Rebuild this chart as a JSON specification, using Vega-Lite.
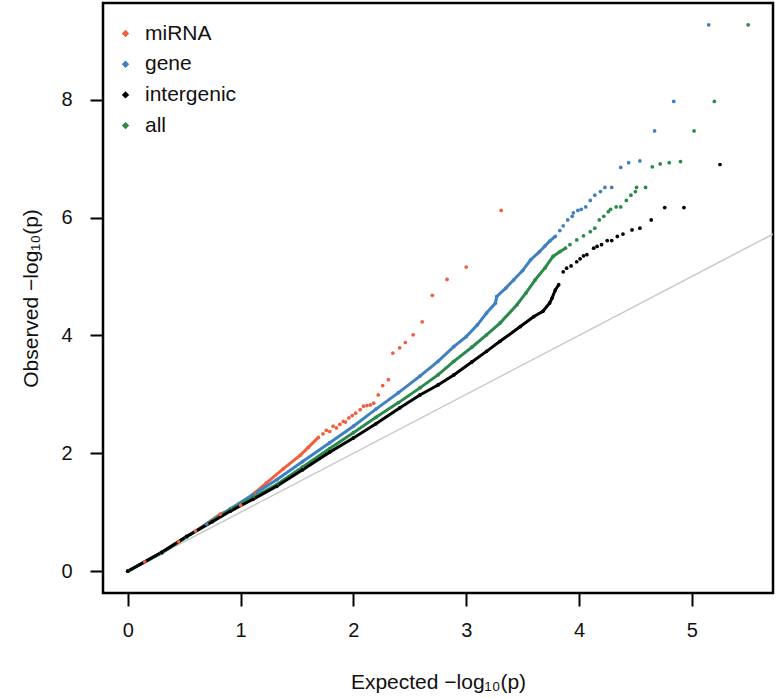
{
  "$schema": "https://vega.github.io/schema/vega-lite/v6.json",
  "width": 670,
  "height": 590,
  "autosize": {"type": "none"},
  "padding": {"left": 103, "top": 3, "right": 4, "bottom": 105},
  "background": "white",
  "config": {
    "font": "Liberation Sans",
    "view": {"stroke": "black", "strokeWidth": 2.5},
    "axis": {
      "grid": false,
      "domain": false,
      "tickColor": "black",
      "tickWidth": 2,
      "tickSize": 13,
      "labelFontSize": 20,
      "labelColor": "#111",
      "labelFont": "Liberation Sans",
      "titleFontSize": 21,
      "titleFontWeight": "normal",
      "titleColor": "#111",
      "titleFont": "Liberation Sans"
    },
    "legend": {
      "labelFontSize": 21,
      "labelFont": "Liberation Sans",
      "labelColor": "#111"
    }
  },
  "datasets": {
    "diag": [{"x": 0, "y": 0}, {"x": 5.72, "y": 5.72}],
    "pts": [
      {"g": "miRNA", "x": 0, "y": 0},
      {"g": "miRNA", "x": 0.15, "y": 0.16},
      {"g": "miRNA", "x": 0.3, "y": 0.32},
      {"g": "miRNA", "x": 0.45, "y": 0.5},
      {"g": "miRNA", "x": 0.6, "y": 0.68},
      {"g": "miRNA", "x": 0.82, "y": 0.97},
      {"g": "miRNA", "x": 1.0, "y": 1.12},
      {"g": "miRNA", "x": 1.12, "y": 1.32},
      {"g": "miRNA", "x": 1.23, "y": 1.5},
      {"g": "miRNA", "x": 1.38, "y": 1.74},
      {"g": "miRNA", "x": 1.53, "y": 1.97},
      {"g": "miRNA", "x": 1.6, "y": 2.1},
      {"g": "miRNA", "x": 1.69, "y": 2.27},
      {"g": "miRNA", "x": 1.73, "y": 2.33},
      {"g": "miRNA", "x": 1.76, "y": 2.39},
      {"g": "miRNA", "x": 1.79, "y": 2.37},
      {"g": "miRNA", "x": 1.82, "y": 2.46},
      {"g": "miRNA", "x": 1.85, "y": 2.43},
      {"g": "miRNA", "x": 1.88, "y": 2.49},
      {"g": "miRNA", "x": 1.91, "y": 2.54},
      {"g": "miRNA", "x": 1.93, "y": 2.53},
      {"g": "miRNA", "x": 1.96, "y": 2.6},
      {"g": "miRNA", "x": 1.99, "y": 2.64},
      {"g": "miRNA", "x": 2.02, "y": 2.68},
      {"g": "miRNA", "x": 2.06, "y": 2.74},
      {"g": "miRNA", "x": 2.09, "y": 2.8},
      {"g": "miRNA", "x": 2.12, "y": 2.81},
      {"g": "miRNA", "x": 2.15, "y": 2.82},
      {"g": "miRNA", "x": 2.18, "y": 2.85},
      {"g": "miRNA", "x": 2.22, "y": 2.99},
      {"g": "miRNA", "x": 2.26, "y": 3.15},
      {"g": "miRNA", "x": 2.31, "y": 3.25},
      {"g": "miRNA", "x": 2.35, "y": 3.7},
      {"g": "miRNA", "x": 2.41, "y": 3.79},
      {"g": "miRNA", "x": 2.46, "y": 3.88},
      {"g": "miRNA", "x": 2.53, "y": 4.01},
      {"g": "miRNA", "x": 2.61, "y": 4.23},
      {"g": "miRNA", "x": 2.7, "y": 4.68},
      {"g": "miRNA", "x": 2.83, "y": 4.95},
      {"g": "miRNA", "x": 3.0, "y": 5.16},
      {"g": "miRNA", "x": 3.31, "y": 6.12},
      {"g": "gene", "x": 0, "y": 0},
      {"g": "gene", "x": 0.3, "y": 0.31},
      {"g": "gene", "x": 0.52, "y": 0.58},
      {"g": "gene", "x": 0.7, "y": 0.8},
      {"g": "gene", "x": 0.91, "y": 1.06},
      {"g": "gene", "x": 1.11, "y": 1.3},
      {"g": "gene", "x": 1.32, "y": 1.55},
      {"g": "gene", "x": 1.55, "y": 1.86},
      {"g": "gene", "x": 1.79, "y": 2.18},
      {"g": "gene", "x": 2.0, "y": 2.46},
      {"g": "gene", "x": 2.2, "y": 2.75},
      {"g": "gene", "x": 2.4, "y": 3.03},
      {"g": "gene", "x": 2.59, "y": 3.31},
      {"g": "gene", "x": 2.75, "y": 3.56},
      {"g": "gene", "x": 2.89, "y": 3.81},
      {"g": "gene", "x": 3.0, "y": 3.98},
      {"g": "gene", "x": 3.1, "y": 4.18},
      {"g": "gene", "x": 3.18, "y": 4.38},
      {"g": "gene", "x": 3.26, "y": 4.55},
      {"g": "gene", "x": 3.27, "y": 4.66},
      {"g": "gene", "x": 3.35, "y": 4.8},
      {"g": "gene", "x": 3.42, "y": 4.94},
      {"g": "gene", "x": 3.5, "y": 5.1},
      {"g": "gene", "x": 3.57, "y": 5.28},
      {"g": "gene", "x": 3.65, "y": 5.42},
      {"g": "gene", "x": 3.7, "y": 5.52},
      {"g": "gene", "x": 3.74, "y": 5.6},
      {"g": "gene", "x": 3.79, "y": 5.68},
      {"g": "gene", "x": 3.83, "y": 5.78},
      {"g": "gene", "x": 3.86, "y": 5.86},
      {"g": "gene", "x": 3.9, "y": 5.96},
      {"g": "gene", "x": 3.94, "y": 6.02},
      {"g": "gene", "x": 3.95, "y": 6.08},
      {"g": "gene", "x": 3.99, "y": 6.12},
      {"g": "gene", "x": 4.02, "y": 6.14},
      {"g": "gene", "x": 4.06, "y": 6.18},
      {"g": "gene", "x": 4.1, "y": 6.29},
      {"g": "gene", "x": 4.14, "y": 6.38},
      {"g": "gene", "x": 4.19, "y": 6.44},
      {"g": "gene", "x": 4.23, "y": 6.51},
      {"g": "gene", "x": 4.29, "y": 6.51},
      {"g": "gene", "x": 4.37, "y": 6.85},
      {"g": "gene", "x": 4.44, "y": 6.93},
      {"g": "gene", "x": 4.54, "y": 6.96},
      {"g": "gene", "x": 4.67, "y": 7.47},
      {"g": "gene", "x": 4.84, "y": 7.97},
      {"g": "gene", "x": 5.15, "y": 9.27},
      {"g": "all", "x": 0, "y": 0},
      {"g": "all", "x": 0.3, "y": 0.31},
      {"g": "all", "x": 0.52, "y": 0.58},
      {"g": "all", "x": 0.91, "y": 1.04},
      {"g": "all", "x": 1.11, "y": 1.25},
      {"g": "all", "x": 1.32, "y": 1.47},
      {"g": "all", "x": 1.55, "y": 1.77},
      {"g": "all", "x": 1.79, "y": 2.08},
      {"g": "all", "x": 2.0, "y": 2.35},
      {"g": "all", "x": 2.2, "y": 2.61},
      {"g": "all", "x": 2.4, "y": 2.86},
      {"g": "all", "x": 2.59, "y": 3.11},
      {"g": "all", "x": 2.75, "y": 3.33},
      {"g": "all", "x": 2.89, "y": 3.56},
      {"g": "all", "x": 3.05, "y": 3.8},
      {"g": "all", "x": 3.18, "y": 4.01},
      {"g": "all", "x": 3.3, "y": 4.21},
      {"g": "all", "x": 3.45, "y": 4.52},
      {"g": "all", "x": 3.53, "y": 4.72},
      {"g": "all", "x": 3.61, "y": 4.94},
      {"g": "all", "x": 3.7, "y": 5.15},
      {"g": "all", "x": 3.77, "y": 5.34},
      {"g": "all", "x": 3.83, "y": 5.42},
      {"g": "all", "x": 3.88, "y": 5.48},
      {"g": "all", "x": 3.92, "y": 5.54},
      {"g": "all", "x": 3.98, "y": 5.62},
      {"g": "all", "x": 4.04, "y": 5.69},
      {"g": "all", "x": 4.1, "y": 5.76},
      {"g": "all", "x": 4.14, "y": 5.82},
      {"g": "all", "x": 4.18, "y": 5.96},
      {"g": "all", "x": 4.22, "y": 6.02},
      {"g": "all", "x": 4.26, "y": 6.1},
      {"g": "all", "x": 4.28, "y": 6.14},
      {"g": "all", "x": 4.33, "y": 6.18},
      {"g": "all", "x": 4.37, "y": 6.18},
      {"g": "all", "x": 4.42, "y": 6.29},
      {"g": "all", "x": 4.46, "y": 6.38},
      {"g": "all", "x": 4.5, "y": 6.44},
      {"g": "all", "x": 4.51, "y": 6.51},
      {"g": "all", "x": 4.59, "y": 6.51},
      {"g": "all", "x": 4.65, "y": 6.86},
      {"g": "all", "x": 4.72, "y": 6.91},
      {"g": "all", "x": 4.8, "y": 6.93},
      {"g": "all", "x": 4.9, "y": 6.95},
      {"g": "all", "x": 5.02, "y": 7.47},
      {"g": "all", "x": 5.2, "y": 7.97},
      {"g": "all", "x": 5.5, "y": 9.27},
      {"g": "intergenic", "x": 0, "y": 0},
      {"g": "intergenic", "x": 0.3, "y": 0.32},
      {"g": "intergenic", "x": 0.52, "y": 0.59},
      {"g": "intergenic", "x": 0.75, "y": 0.84},
      {"g": "intergenic", "x": 0.91, "y": 1.02},
      {"g": "intergenic", "x": 1.11, "y": 1.22},
      {"g": "intergenic", "x": 1.32, "y": 1.44},
      {"g": "intergenic", "x": 1.55, "y": 1.72},
      {"g": "intergenic", "x": 1.79, "y": 2.02},
      {"g": "intergenic", "x": 2.0, "y": 2.26},
      {"g": "intergenic", "x": 2.2, "y": 2.5},
      {"g": "intergenic", "x": 2.41, "y": 2.77},
      {"g": "intergenic", "x": 2.59, "y": 2.99},
      {"g": "intergenic", "x": 2.75, "y": 3.16},
      {"g": "intergenic", "x": 2.89, "y": 3.33},
      {"g": "intergenic", "x": 3.05, "y": 3.55},
      {"g": "intergenic", "x": 3.18, "y": 3.73},
      {"g": "intergenic", "x": 3.3, "y": 3.9},
      {"g": "intergenic", "x": 3.48, "y": 4.15},
      {"g": "intergenic", "x": 3.6, "y": 4.32},
      {"g": "intergenic", "x": 3.68, "y": 4.41},
      {"g": "intergenic", "x": 3.74, "y": 4.55},
      {"g": "intergenic", "x": 3.76, "y": 4.63},
      {"g": "intergenic", "x": 3.79, "y": 4.77},
      {"g": "intergenic", "x": 3.82, "y": 4.86},
      {"g": "intergenic", "x": 3.86, "y": 5.08},
      {"g": "intergenic", "x": 3.89, "y": 5.14},
      {"g": "intergenic", "x": 3.93, "y": 5.18},
      {"g": "intergenic", "x": 3.98, "y": 5.25},
      {"g": "intergenic", "x": 4.01, "y": 5.3},
      {"g": "intergenic", "x": 4.04, "y": 5.35},
      {"g": "intergenic", "x": 4.07, "y": 5.37},
      {"g": "intergenic", "x": 4.13, "y": 5.48},
      {"g": "intergenic", "x": 4.16, "y": 5.51},
      {"g": "intergenic", "x": 4.2, "y": 5.54},
      {"g": "intergenic", "x": 4.25, "y": 5.61},
      {"g": "intergenic", "x": 4.29, "y": 5.61},
      {"g": "intergenic", "x": 4.34, "y": 5.68},
      {"g": "intergenic", "x": 4.39, "y": 5.72},
      {"g": "intergenic", "x": 4.47, "y": 5.79},
      {"g": "intergenic", "x": 4.54, "y": 5.82},
      {"g": "intergenic", "x": 4.64, "y": 5.96},
      {"g": "intergenic", "x": 4.76, "y": 6.17},
      {"g": "intergenic", "x": 4.93, "y": 6.17},
      {"g": "intergenic", "x": 5.25, "y": 6.9}
    ]
  },
  "encoding": {
    "x": {
      "field": "x", "type": "quantitative",
      "scale": {"domain": [-0.22, 5.72], "nice": false, "zero": false},
      "axis": {"values": [0, 1, 2, 3, 4, 5], "format": "d", "title": "Expected  −log₁₀(p)", "labelPadding": 14, "titlePadding": 31}
    },
    "y": {
      "field": "y", "type": "quantitative",
      "scale": {"domain": [-0.37, 9.64], "nice": false, "zero": false},
      "axis": {"values": [0, 2, 4, 6, 8], "format": "d", "title": "Observed  −log₁₀(p)", "labelPadding": 18, "titlePadding": 19}
    }
  },
  "layer": [
    {
      "data": {"name": "diag"},
      "mark": {"type": "line", "color": "#c8c8c8", "strokeWidth": 1.5, "clip": true}
    },
    {
      "data": {"name": "pts"},
      "transform": [
        {"filter": "(datum.g == 'miRNA' && datum.x <= 1.69) || (datum.g == 'gene' && datum.x <= 3.79) || (datum.g == 'all' && datum.x <= 3.88) || (datum.g == 'intergenic' && datum.x <= 3.82)"}
      ],
      "mark": {"type": "line", "strokeWidth": 3, "clip": true},
      "encoding": {
        "color": {
          "field": "g", "type": "nominal",
          "scale": {"domain": ["miRNA", "gene", "intergenic", "all"], "range": ["#F0603C", "#3F80C0", "#000000", "#2A8A4A"]},
          "legend": {
            "title": null,
            "orient": "none",
            "legendX": 12,
            "legendY": 20,
            "padding": 0,
            "symbolType": "diamond",
            "symbolSize": 55,
            "symbolStrokeWidth": 0,
            "labelOffset": 9,
            "rowPadding": 8.7
          }
        }
      }
    },
    {
      "data": {"name": "pts"},
      "mark": {"type": "point", "filled": true, "size": 14, "opacity": 1, "clip": true},
      "encoding": {
        "color": {
          "field": "g", "type": "nominal",
          "scale": {"domain": ["miRNA", "gene", "intergenic", "all"], "range": ["#F0603C", "#3F80C0", "#000000", "#2A8A4A"]},
          "legend": {
            "title": null,
            "orient": "none",
            "legendX": 12,
            "legendY": 20,
            "padding": 0,
            "symbolType": "diamond",
            "symbolSize": 55,
            "symbolStrokeWidth": 0,
            "labelOffset": 9,
            "rowPadding": 8.7
          }
        }
      }
    }
  ]
}
